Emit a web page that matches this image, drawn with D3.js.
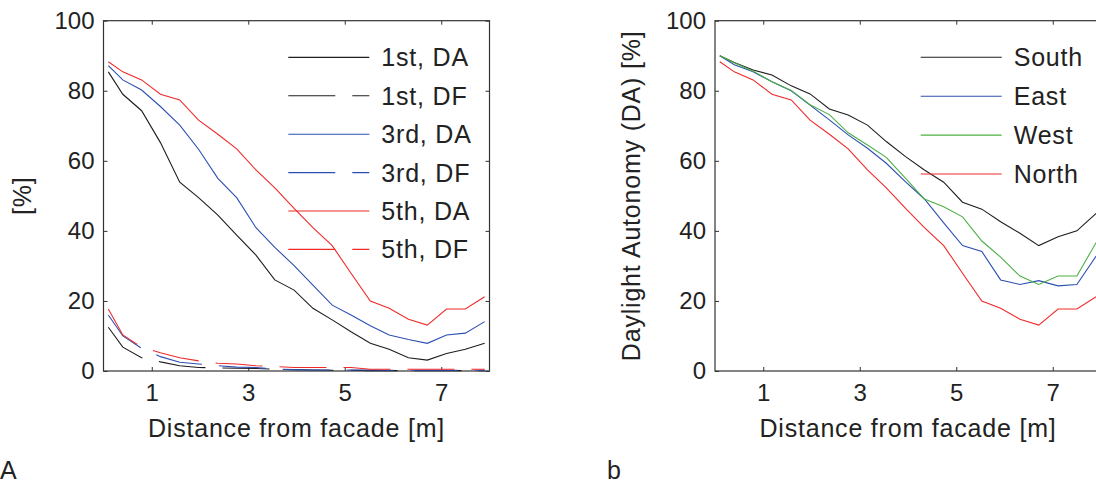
<!DOCTYPE html>
<html><head><meta charset="utf-8">
<script src="https://cdn.jsdelivr.net/npm/d3@7"></script>
<style>
body{margin:0;background:#fff}
svg{display:block}
text{font-family:"Liberation Sans",Arial,Helvetica,sans-serif;fill:#222}
</style>
</head><body>
<svg id="c" width="1096" height="484"></svg>
<script>
// ---- data ----
const distance = [0.1, 0.4, 0.79, 1.18, 1.58, 1.97, 2.37, 2.76, 3.16, 3.55, 3.95, 4.34, 4.74, 5.13, 5.53, 5.92, 6.32, 6.71, 7.11, 7.5, 7.9];

const da1st = [85.4, 79.0, 74.3, 65.2, 53.9, 49.5, 44.5, 38.8, 33.1, 26.0, 23.1, 17.9, 14.6, 11.2, 7.9, 6.2, 3.8, 3.1, 5.0, 6.2, 7.9];
const df1st = [12.5, 6.8, 3.8, 2.6, 1.5, 1.0, 0.9, 0.8, 0.7, 0.5, 0.4, 0.3, 0.2, 0.2, 0.1, 0.1, 0.1, 0.1, 0.1, 0.1, 0.1];
const da3rd = [87.2, 83.1, 80.2, 75.5, 70.2, 63.3, 55.0, 49.5, 40.9, 35.3, 30.1, 24.5, 18.8, 16.0, 12.9, 10.3, 9.0, 7.9, 10.3, 10.8, 14.1];
const df3rd = [16.0, 10.0, 6.5, 4.1, 2.5, 2.0, 1.5, 1.1, 1.0, 0.5, 0.4, 0.3, 0.3, 0.3, 0.3, 0.2, 0.2, 0.2, 0.2, 0.2, 0.2];
const da5th = [88.3, 85.4, 83.1, 79.0, 77.4, 71.6, 67.6, 63.4, 57.4, 52.3, 46.4, 40.9, 35.8, 27.9, 20.0, 17.9, 14.8, 13.1, 17.7, 17.7, 21.2];
const df5th = [17.7, 10.3, 6.8, 5.2, 3.8, 2.9, 2.2, 2.0, 1.5, 1.3, 1.0, 1.0, 1.0, 1.0, 0.5, 0.5, 0.5, 0.5, 0.5, 0.5, 0.5];

const south = [90.0, 88.1, 85.9, 84.5, 81.4, 79.1, 74.8, 73.1, 70.2, 65.5, 61.2, 57.4, 53.9, 48.2, 46.2, 42.6, 39.3, 35.8, 38.3, 40.0, 45.0];
const east  = [90.0, 87.4, 85.4, 82.6, 80.0, 75.9, 71.7, 67.4, 63.6, 59.3, 54.0, 49.1, 42.3, 35.8, 34.1, 26.0, 24.7, 25.8, 24.3, 24.7, 32.8];
const west  = [90.0, 88.0, 85.6, 82.6, 80.1, 76.0, 73.2, 68.0, 64.5, 61.0, 55.0, 49.1, 46.9, 44.0, 37.1, 32.5, 27.1, 24.7, 27.1, 27.1, 36.7];
const north = [88.3, 85.4, 83.1, 79.0, 77.4, 71.6, 67.6, 63.4, 57.4, 52.3, 46.4, 40.9, 35.8, 27.9, 20.0, 17.9, 14.8, 13.1, 17.7, 17.7, 21.2];

const xTicks = [1, 3, 5, 7];
const yTicks = [0, 20, 40, 60, 80, 100];
const labelsA = ["1st, DA", "1st, DF", "3rd, DA", "3rd, DF", "5th, DA", "5th, DF"];
const labelsB = ["South", "East", "West", "North"];
const xTitle = "Distance from facade [m]";
const yTitleA = "[%]";
const yTitleB = "Daylight Autonomy (DA) [%]";

// ---- styles ----
const C = {black: "#1e1e1e", blue: "#2d4fb3", red: "#f02a2a", green: "#4cb044"};
const DASH = "47,17";

const seriesA = [
  {v: da1st, c: C.black, d: null},
  {v: df1st, c: C.black, d: DASH},
  {v: da3rd, c: C.blue, d: null},
  {v: df3rd, c: C.blue, d: DASH},
  {v: da5th, c: C.red, d: null},
  {v: df5th, c: C.red, d: DASH}
];
const seriesB = [
  {v: south, c: C.black, d: null},
  {v: east, c: C.blue, d: null},
  {v: west, c: C.green, d: null},
  {v: north, c: C.red, d: null}
];

const svg = d3.select("#c");
const TOP = 20.7, BOTTOM = 371, W = 386;

function panel(x0, series, labels, legX, legY0, legStep, yTitle, yTitleX) {
  const g = svg.append("g");
  const x = d3.scaleLinear().domain([0, 8]).range([x0, x0 + W]);
  const y = d3.scaleLinear().domain([0, 100]).range([BOTTOM, TOP]);

  const axStyle = sel => {
    sel.select(".domain").remove();
    sel.selectAll(".tick line").attr("stroke", "#333");
    sel.selectAll(".tick text").attr("font-size", 24).attr("fill", "#222")
       .attr("font-family", '"Liberation Sans",Arial,sans-serif');
  };
  g.append("g").attr("transform", `translate(0,${BOTTOM})`)
    .call(d3.axisBottom(x).tickValues(xTicks).tickSize(-4).tickPadding(13).tickFormat(d3.format("d")))
    .call(axStyle);
  g.append("g").attr("transform", `translate(0,${TOP})`)
    .call(d3.axisTop(x).tickValues(xTicks).tickSize(-4).tickFormat(""))
    .call(axStyle);
  g.append("g").attr("transform", `translate(${x0},0)`)
    .call(d3.axisLeft(y).tickValues(yTicks).tickSize(-4).tickPadding(9).tickFormat(d3.format("d")))
    .call(axStyle);
  g.append("g").attr("transform", `translate(${x0 + W},0)`)
    .call(d3.axisRight(y).tickValues(yTicks).tickSize(-4).tickFormat(""))
    .call(axStyle);

  g.append("rect").attr("x", x0).attr("y", TOP).attr("width", W).attr("height", BOTTOM - TOP)
    .attr("fill", "none").attr("stroke", "#333").attr("stroke-width", 1.2);

  const line = d3.line().x((d, i) => x(distance[i])).y(d => y(d));
  series.forEach(s => {
    g.append("path").datum(s.v).attr("d", line)
      .attr("fill", "none").attr("stroke", s.c).attr("stroke-width", 1.1)
      .attr("stroke-dasharray", s.d);
  });

  // legend
  const lg = g.append("g");
  labels.forEach((lab, i) => {
    const yy = legY0 + i * legStep;
    const s = series[i];
    lg.append("line").attr("x1", legX).attr("x2", legX + 81).attr("y1", yy).attr("y2", yy)
      .attr("stroke", s.c).attr("stroke-width", 1.1).attr("stroke-dasharray", s.d);
    lg.append("text").attr("x", legX + 93).attr("y", yy).attr("dy", "0.36em")
      .attr("font-size", 25).attr("letter-spacing", 0.8).text(lab);
  });

  g.append("text").attr("x", x0 + W / 2).attr("y", 437).attr("text-anchor", "middle")
    .attr("font-size", 25).attr("letter-spacing", 0.8).text(xTitle);
  g.append("text").attr("transform", `translate(${yTitleX},${(TOP + BOTTOM) / 2}) rotate(-90)`)
    .attr("text-anchor", "middle").attr("font-size", 25).attr("letter-spacing", 0.8).text(yTitle);
}

panel(103.5, seriesA, labelsA, 288.3, 57.4, 38.4, yTitleA, 31);
panel(715, seriesB, labelsB, 920.7, 57.3, 38.9, yTitleB, 640);

svg.append("text").attr("x", 0).attr("y", 479).attr("font-size", 25).text("A");
svg.append("text").attr("x", 607).attr("y", 479).attr("font-size", 25).text("b");
</script>
</body></html>
